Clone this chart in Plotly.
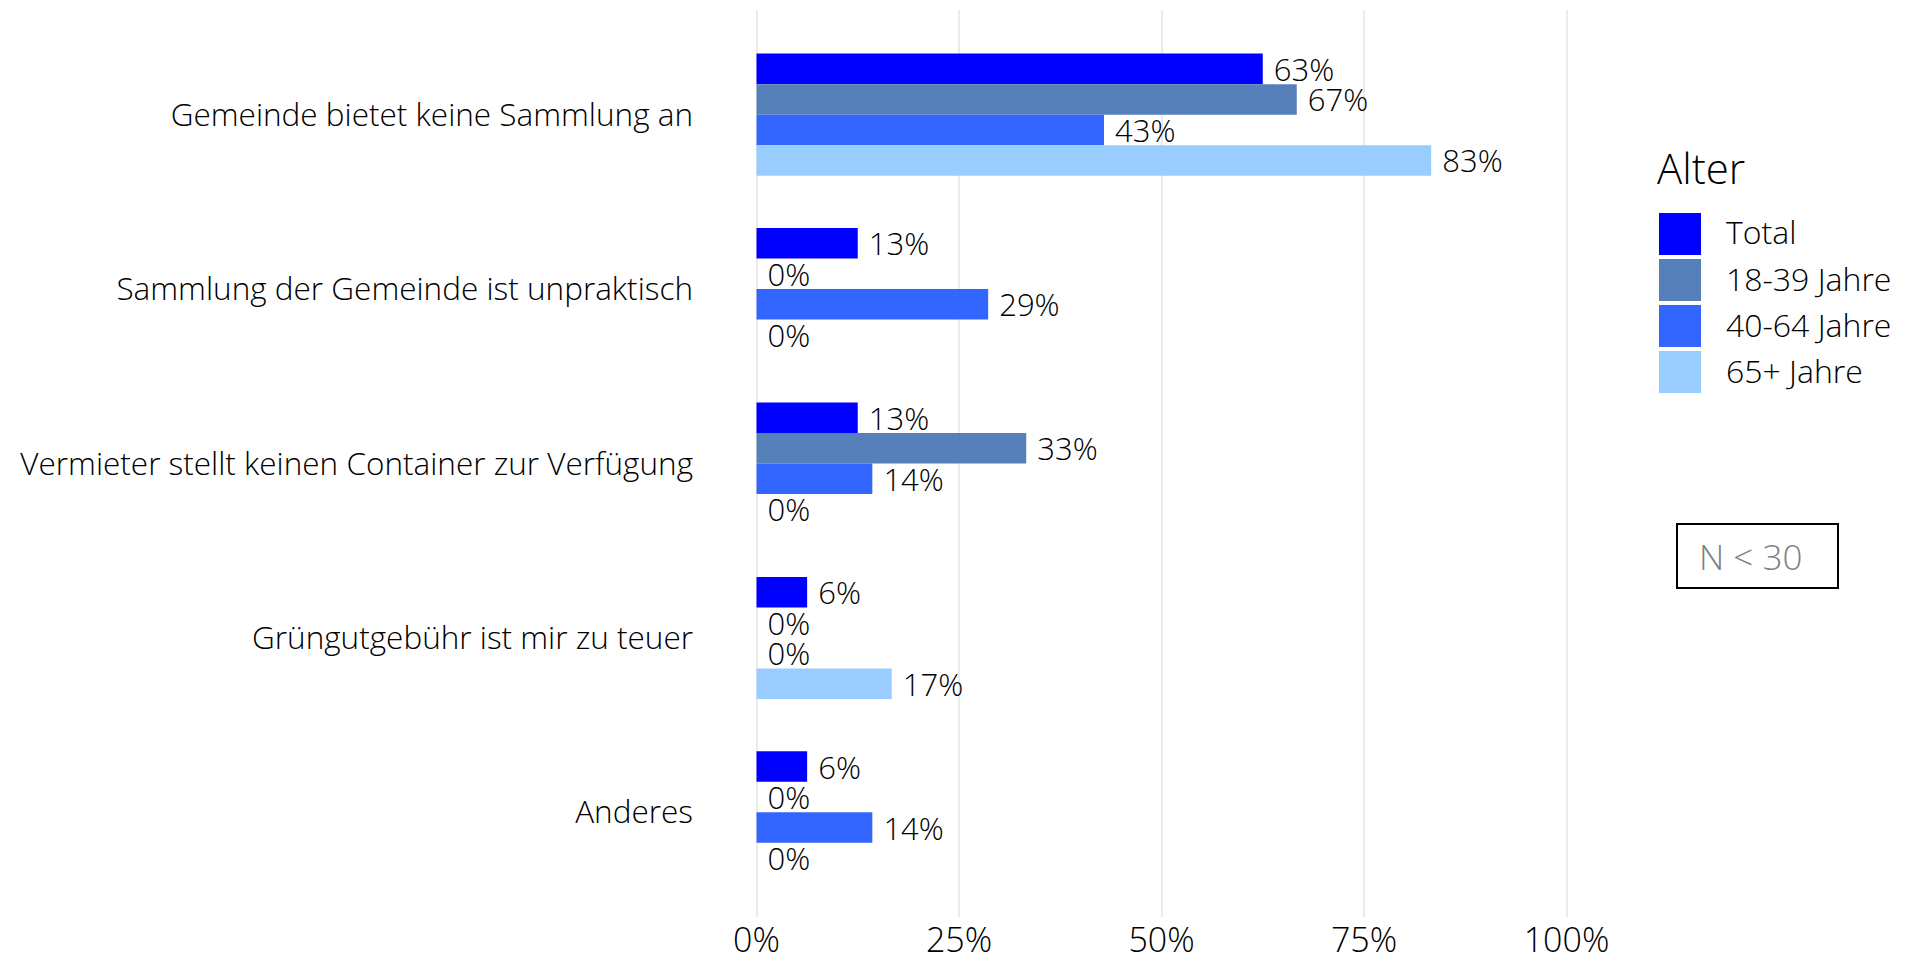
import plotly.graph_objects as go

categories = [
    "Gemeinde bietet keine Sammlung an",
    "Sammlung der Gemeinde ist unpraktisch",
    "Vermieter stellt keinen Container zur Verfügung",
    "Grüngutgebühr ist mir zu teuer",
    "Anderes",
]
series_names = ["Total", "18-39 Jahre", "40-64 Jahre", "65+ Jahre"]
total = [62.5, 12.5, 12.5, 6.25, 6.25]
age_18_39 = [66.7, 0, 33.3, 0, 0]
age_40_64 = [42.9, 28.6, 14.3, 0, 14.3]
age_65 = [83.3, 0, 0, 16.7, 0]
series_values = [total, age_18_39, age_40_64, age_65]
colors = ["#0000FF", "#5580B9", "#3366FF", "#99CCFF"]
x_ticks = [0, 25, 50, 75, 100]
x_ticklabels = ["0%", "25%", "50%", "75%", "100%"]

FONT = "Open Sans"
WEIGHT = 300
# the page body adds an 8px margin on the left and top
OFF_X, OFF_Y = 8, 8
W, H = 1912 - OFF_X, 955 - OFF_Y
# plot area in page pixels: x 716..1607, y 10..917
ML, MR, MT, MB = 716 - OFF_X, 1912 - 1607, 10 - OFF_Y, 955 - 917
PW = W - ML - MR
PH = H - MT - MB


def px_x(px):
    return (px - OFF_X - ML) / PW


def px_y(py):
    return (H - MB - (py - OFF_Y)) / PH


def txt(size, color="#000000"):
    return dict(family=FONT, size=size, color=color, weight=WEIGHT)


fig = go.Figure()
for name, vals, col in zip(series_names, series_values, colors):
    fig.add_trace(go.Bar(
        y=categories, x=vals, name=name, orientation="h",
        marker=dict(color=col, line=dict(width=0)),
        texttemplate="\u00a0%{x:.0f}%",
        textposition="outside",
        constraintext="none",
        cliponaxis=False,
        textfont=txt(31),
        showlegend=False,
        hoverinfo="skip",
    ))

# legend drawn by hand so the swatches can be large
fig.add_annotation(x=px_x(1655), y=px_y(167), xref="paper", yref="paper",
                   text="Alter", showarrow=False, xanchor="left", yanchor="middle",
                   font=txt(42))
for i, (name, col) in enumerate(zip(series_names, colors)):
    top = 213 + i * 46
    fig.add_shape(type="rect", xref="paper", yref="paper",
                  x0=px_x(1659), x1=px_x(1701), y0=px_y(top + 42), y1=px_y(top),
                  fillcolor=col, line=dict(width=0))
    fig.add_annotation(x=px_x(1724), y=px_y(top + 19), xref="paper", yref="paper",
                       text=name, showarrow=False, xanchor="left", yanchor="middle",
                       font=txt(32))

# N < 30 note
fig.add_shape(type="rect", xref="paper", yref="paper",
              x0=px_x(1677), x1=px_x(1838), y0=px_y(588), y1=px_y(524),
              line=dict(color="#000000", width=2), fillcolor="rgba(0,0,0,0)")
fig.add_annotation(x=px_x(1750), y=px_y(556), xref="paper", yref="paper",
                   text="N < 30", showarrow=False, xanchor="center", yanchor="middle",
                   font=txt(35, "#808080"))

fig.update_layout(
    width=W, height=H,
    margin=dict(l=ML, r=MR, t=MT, b=MB, autoexpand=False),
    plot_bgcolor="white", paper_bgcolor="white",
    barmode="group", bargap=0.3, bargroupgap=0,
    font=dict(family=FONT, color="#000000"),
    xaxis=dict(range=[-5, 105], tickvals=x_ticks, ticktext=x_ticklabels,
               showgrid=True, gridcolor="#EBEBEB", gridwidth=2, zeroline=False,
               showline=False, ticks="", automargin=False,
               tickfont=txt(34)),
    yaxis=dict(range=[len(categories) - 0.4, -0.6], autorange=False,
               showgrid=False, zeroline=False, showline=False,
               ticks="", automargin=False, ticklabelstandoff=22,
               tickfont=txt(31.5)),
)

fig.write_html("out.html")
